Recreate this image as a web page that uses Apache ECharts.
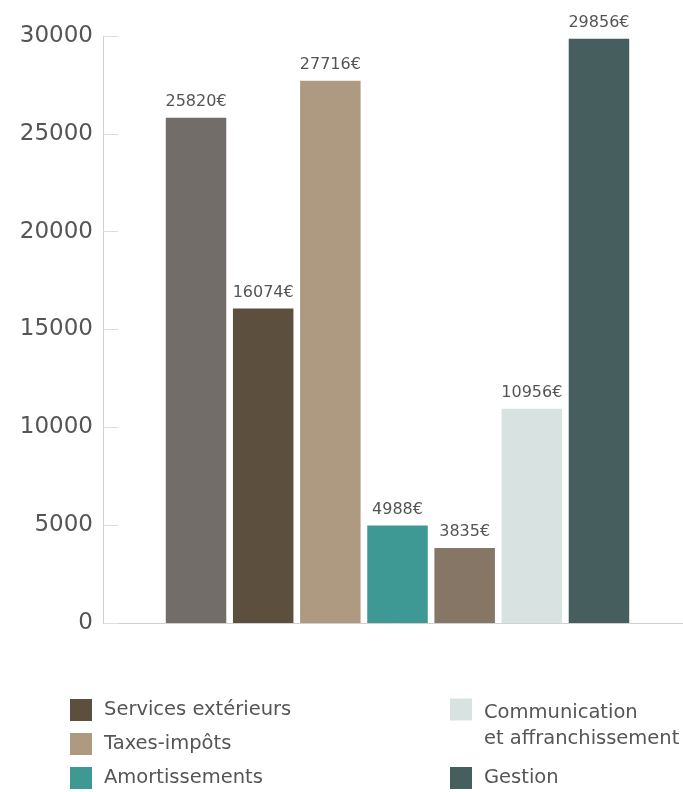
<!DOCTYPE html>
<html>
<head>
<meta charset="utf-8">
<script src="https://cdn.jsdelivr.net/npm/echarts@6/dist/echarts.min.js"></script>
<style>
html,body{margin:0;padding:0;background:#fff;}
#chart{width:683px;height:792px;}
</style>
</head>
<body>
<div id="chart"></div>
<script>
const categories = ['Charges'];
const seriesNames = ['Achats', 'Services extérieurs', 'Taxes-impôts', 'Amortissements', 'Charges diverses', 'Communication et affranchissement', 'Gestion'];
const seriesValues = [25820, 16074, 27716, 4988, 3835, 10956, 29856];
const seriesColors = ['#726d69', '#5d4f3d', '#ae9a80', '#3e9894', '#857665', '#d8e2e0', '#465e5e'];
const yTicks = [0, 5000, 10000, 15000, 20000, 25000, 30000];

const FONT = 'DejaVu Sans';
const chart = echarts.init(document.getElementById('chart'));

const series = seriesNames.map((name, i) => ({
  name: name,
  type: 'bar',
  data: [seriesValues[i]],
  barWidth: 60.5,
  barGap: '11%',
  itemStyle: { color: seriesColors[i] },
  label: {
    show: true,
    position: 'top',
    distance: 8,
    formatter: p => p.value + '€',
    color: '#555',
    fontFamily: FONT,
    fontSize: 16
  }
}));

const legendText = { color: '#555', fontFamily: FONT, fontSize: 19.5, padding: [0, 0, 0, 7] };

chart.setOption({
  animation: false,
  grid: { left: 103, right: -9, top: 36, bottom: 169, containLabel: false, outerBoundsMode: 'none' },
  xAxis: {
    type: 'category',
    data: categories,
    axisLine: { show: true, lineStyle: { color: '#d0d0d0', width: 1 } },
    axisTick: { show: false },
    axisLabel: { show: false }
  },
  yAxis: {
    type: 'value',
    min: yTicks[0],
    max: yTicks[yTicks.length - 1],
    interval: 5000,
    axisLine: { show: true, lineStyle: { color: '#d0d0d0', width: 1 } },
    axisTick: { show: true, inside: true, length: 15, lineStyle: { color: '#dddddd' } },
    splitLine: { show: false },
    axisLabel: { color: '#555', fontFamily: FONT, fontSize: 23, margin: 10, formatter: v => String(v) }
  },
  legend: [
    {
      orient: 'vertical',
      left: 70, top: 699, height: 200, padding: 0,
      itemWidth: 22, itemHeight: 22, itemGap: 12,
      icon: 'rect',
      data: [seriesNames[1], seriesNames[2], seriesNames[3]],
      textStyle: legendText
    },
    {
      orient: 'vertical',
      left: 450, top: 683, height: 200, padding: 0,
      itemWidth: 22, itemHeight: 22,
      icon: 'rect',
      data: [seriesNames[5]],
      formatter: () => '{s| }\n{a|Communication}\n{a|et affranchissement}',
      textStyle: {
        color: '#555', fontFamily: FONT, fontSize: 19.5, padding: [0, 0, 0, 7],
        rich: {
          s: { fontSize: 1, lineHeight: 32 },
          a: { color: '#555', fontFamily: FONT, fontSize: 19.5, lineHeight: 26 }
        }
      }
    },
    {
      orient: 'vertical',
      left: 450, top: 767, height: 100, padding: 0,
      itemWidth: 22, itemHeight: 22,
      icon: 'rect',
      data: [seriesNames[6]],
      textStyle: legendText
    }
  ],
  series: series
});
</script>
</body>
</html>
